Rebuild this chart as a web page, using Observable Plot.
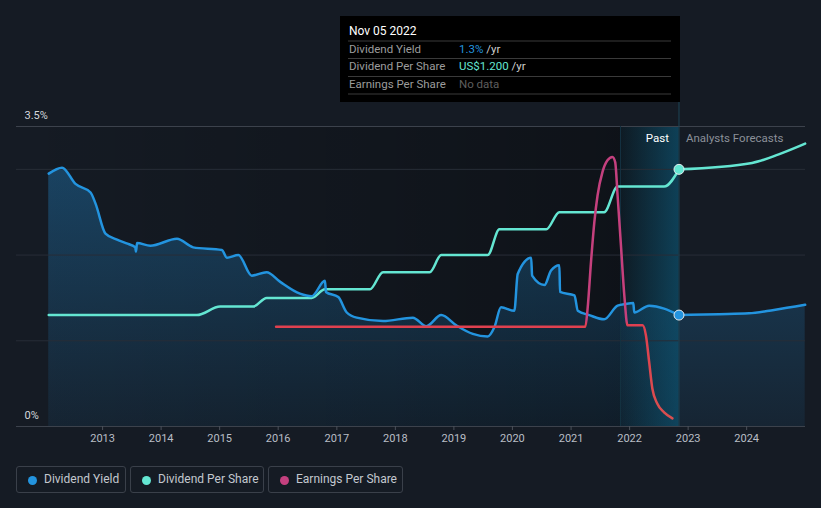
<!DOCTYPE html>
<html><head><meta charset="utf-8">
<script src="https://cdn.jsdelivr.net/npm/d3@7"></script>
<script src="https://cdn.jsdelivr.net/npm/@observablehq/plot@0.6"></script>
<style>
html,body{margin:0;padding:0;background:#151b24;}
body{width:821px;height:508px;overflow:hidden;font-family:Roboto,"Noto Sans",sans-serif;}
#wrap{position:relative;width:821px;height:508px;}
#chart{position:absolute;left:0;top:0;}
#tip{position:absolute;left:340px;top:16px;}
.lg{position:absolute;top:466px;border:1px solid #3a404a;border-radius:3px;box-sizing:border-box;height:27px;}
.lg .dot{position:absolute;top:8.5px;width:9px;height:9px;border-radius:50%;}
.lg .t{position:absolute;top:0;line-height:25px;font-size:12px;color:#c3c8cf;white-space:nowrap;}
</style>
</head><body>
<div id="wrap">
  <div id="chart"></div>
  <svg id="tip" width="340" height="86" font-family="Roboto, sans-serif" font-size="11.5">
    <rect x="0" y="0" width="340" height="86" fill="#000"/>
    <text x="9" y="18.5" fill="#ffffff" font-size="12">Nov 05 2022</text>
    <line x1="8" x2="331" y1="25" y2="25" stroke="#3a3a3a"/>
    <text x="9" y="36.5" fill="#9c9c9c">Dividend Yield</text>
    <text x="119" y="36.5"><tspan fill="#2394df">1.3%</tspan><tspan fill="#cfcfcf"> /yr</tspan></text>
    <line x1="8" x2="331" y1="42.5" y2="42.5" stroke="#3a3a3a"/>
    <text x="9" y="54" fill="#9c9c9c">Dividend Per Share</text>
    <text x="119" y="54"><tspan fill="#64e6d2">US$1.200</tspan><tspan fill="#cfcfcf"> /yr</tspan></text>
    <line x1="8" x2="331" y1="60.5" y2="60.5" stroke="#3a3a3a"/>
    <text x="9" y="72" fill="#9c9c9c">Earnings Per Share</text>
    <text x="119" y="72" fill="#5e5e5e">No data</text>
    <line x1="8" x2="331" y1="78" y2="78" stroke="#3a3a3a"/>
  </svg>
  <div class="lg" style="left:16px;width:110px"><span class="dot" style="left:11px;background:#2394df"></span><span class="t" style="left:27px">Dividend Yield</span></div>
  <div class="lg" style="left:130px;width:134px"><span class="dot" style="left:11px;background:#64e6d2"></span><span class="t" style="left:27px">Dividend Per Share</span></div>
  <div class="lg" style="left:268px;width:135px"><span class="dot" style="left:11px;background:#c4407f"></span><span class="t" style="left:27px">Earnings Per Share</span></div>
</div>
<script>
// ---------- data ----------
const yieldDates = ["2012-01-31","2012-04-23","2012-07-16","2012-10-18","2012-11-18","2013-01-19","2013-04-01","2013-06-10","2013-07-24","2013-07-28","2013-08-04","2013-10-26","2014-04-10","2014-07-20","2015-01-15","2015-02-15","2015-04-28","2015-07-20","2015-10-21","2016-01-12","2016-05-16","2016-07-28","2016-10-19","2016-10-25","2017-01-10","2017-03-04","2017-05-05","2017-10-16","2018-04-20","2018-07-13","2018-10-14","2019-01-16","2019-04-29","2019-07-31","2019-09-11","2019-10-22","2020-01-13","2020-02-03","2020-04-27","2020-05-03","2020-07-19","2020-08-29","2020-10-20","2020-10-24","2021-01-22","2021-02-12","2021-04-24","2021-07-26","2021-10-18","2021-12-09","2022-01-24","2022-01-30","2022-05-03","2022-11-05"];
const yieldValues = [2.95,3.02,2.83,2.73,2.60,2.25,2.18,2.13,2.09,2.04,2.14,2.11,2.19,2.09,2.06,1.97,2.00,1.76,1.80,1.69,1.55,1.52,1.70,1.57,1.51,1.33,1.27,1.23,1.27,1.17,1.30,1.18,1.08,1.05,1.16,1.39,1.35,1.78,1.97,1.76,1.65,1.82,1.88,1.57,1.53,1.35,1.30,1.25,1.41,1.43,1.44,1.33,1.41,1.30];
const yieldFcDates = ["2022-11-05","2023-07-12","2024-01-15","2024-06-19","2024-12-31"];
const yieldFcValues = [1.30,1.31,1.32,1.36,1.42];

const dpsDates = ["2012-01-31","2014-08-12","2015-01-04","2015-07-30","2015-10-21","2016-07-28","2016-10-19","2017-07-26","2017-10-16","2018-08-03","2018-10-14","2019-07-31","2019-10-12","2020-07-30","2020-10-20","2021-07-26","2021-10-18","2022-08-04","2022-11-05"];
const dpsValues = [0.52,0.52,0.56,0.56,0.60,0.60,0.64,0.64,0.72,0.72,0.80,0.80,0.92,0.92,1.00,1.00,1.12,1.12,1.20];
const dpsFcDates = ["2022-11-05","2024-02-04","2024-07-19","2024-12-31"];
const dpsFcValues = [1.20,1.23,1.27,1.32];

const epsDates = ["2015-12-19","2021-02-22","2021-03-31","2021-04-14","2021-05-05","2021-05-26","2021-06-15","2021-07-16","2021-08-16","2021-09-16","2021-10-03","2021-10-18","2021-11-08","2021-11-29","2021-12-19","2022-03-23","2022-04-13","2022-05-03","2022-05-23","2022-06-23","2022-08-04","2022-09-25"];
const epsValues = [2.33,2.33,2.33,2.75,3.83,4.77,5.39,5.94,6.21,6.29,6.17,5.39,4.22,3.06,2.36,2.36,2.12,1.50,0.88,0.53,0.33,0.19];

const gridMajor = [1, 2, 3];
const gridTop = [3.5];
const yLabels = [0, 3.5];
const xTickYears = [2013,2014,2015,2016,2017,2018,2019,2020,2021,2022,2023,2024];
const todayStr = "2022-11-05";
const pastBandStartStr = "2021-11-05";
const domainStartStr = "2011-07-14", domainEndStr = "2025-01-02";

// secondary-series placement on the % axis
const dpsToAxis = 2.5;   // US$1.20 sits on the 3% line
const epsToAxis = 0.5;

// ---------- build ----------
const parse = d3.utcParse("%Y-%m-%d");
const mk = (ds, vs, k = 1) => ds.map((d, i) => ({date: parse(d), value: vs[i] * k}));
const yieldPast = mk(yieldDates, yieldValues);
const yieldFc = mk(yieldFcDates, yieldFcValues);
const yieldAll = yieldPast.concat(yieldFc.slice(1));
const dpsPast = mk(dpsDates, dpsValues, dpsToAxis);
const dpsFc = mk(dpsFcDates, dpsFcValues, dpsToAxis);
const eps = mk(epsDates, epsValues, epsToAxis);
const today = parse(todayStr);
const bandStart = parse(pastBandStartStr);
const dataStart = yieldPast[0].date;
const xTicks = xTickYears.map(y => new Date(Date.UTC(y, 0, 1)));

const BLUE = "#2394df", CYAN = "#64e6d2";

const chart = Plot.plot({
  width: 821, height: 455,
  marginTop: 126, marginBottom: 29, marginLeft: 16, marginRight: 16,
  style: {background: "transparent", fontFamily: "Roboto, sans-serif", fontSize: "11px", color: "#b9bec6"},
  x: {type: "utc", domain: [parse(domainStartStr), parse(domainEndStr)]},
  y: {domain: [0, 3.5], axis: null},
  marks: [
    Plot.rect([{a: dataStart, b: today}], {x1: "a", x2: "b", y1: 0, y2: 3.5, fill: "url(#pastShade)"}),
    Plot.areaY(yieldAll, {x: "date", y: "value", fill: "url(#areaGrad)", curve: "monotone-x"}),
    Plot.rect([{a: bandStart, b: today}], {x1: "a", x2: "b", y1: 0, y2: 3.5, fill: "url(#bandGrad)"}),
    Plot.ruleY(gridMajor, {stroke: "#272d37", strokeWidth: 1}),
    Plot.ruleY(gridTop, {stroke: "#3c424c", strokeWidth: 1}),
    Plot.ruleY([0], {stroke: "#3c424c", strokeWidth: 1}),
    Plot.ruleX([bandStart], {y1: 0, y2: 3.5, stroke: "#143241", strokeWidth: 1}),
    Plot.ruleX([today], {y1: 0, y2: 3.78, stroke: "#1d4556", strokeWidth: 1}),
    Plot.axisX(xTicks, {tickSize: 4, tickPadding: 4, tickFormat: "%Y", stroke: "#4b515a", fill: "#b9bec6", label: null, fontSize: 11}),
    Plot.text(yLabels, {frameAnchor: "left", y: d => d, text: d => d + "%", textAnchor: "start", dx: 8, dy: -11, fill: "#d3d7dc", fontSize: 11}),
    Plot.text([today], {x: d => d, y: 3.5, text: ["Past"], textAnchor: "end", dx: -10, dy: 12, fill: "#ffffff", fontSize: 11.5}),
    Plot.text([today], {x: d => d, y: 3.5, text: ["Analysts Forecasts"], textAnchor: "start", dx: 7, dy: 12, fill: "#8b9099", fontSize: 11.5}),
    Plot.line(dpsPast, {x: "date", y: "value", stroke: CYAN, strokeWidth: 2.5, curve: "monotone-x"}),
    Plot.line(dpsFc, {x: "date", y: "value", stroke: CYAN, strokeWidth: 2.5, curve: "monotone-x"}),
    Plot.line(yieldPast, {x: "date", y: "value", stroke: BLUE, strokeWidth: 2.5, curve: "monotone-x"}),
    Plot.line(yieldFc, {x: "date", y: "value", stroke: BLUE, strokeWidth: 2.5, curve: "monotone-x"}),
    Plot.line(eps, {x: "date", y: "value", stroke: "url(#epsGrad)", strokeWidth: 2.5, curve: "monotone-x"}),
    Plot.dot([dpsPast[dpsPast.length - 1]], {x: "date", y: "value", r: 5, fill: CYAN, stroke: "#e4ecf0", strokeWidth: 1}),
    Plot.dot([yieldPast[yieldPast.length - 1]], {x: "date", y: "value", r: 5, fill: BLUE, stroke: "#e4ecf0", strokeWidth: 1})
  ]
});

// gradients
const ys = chart.scale("y");
const yTop = ys.apply(3.5), yBot = ys.apply(0);
const off = v => ((ys.apply(v) - yTop) / (yBot - yTop)).toFixed(4);
const ns = "http://www.w3.org/2000/svg";
const defs = document.createElementNS(ns, "defs");
defs.innerHTML = `
<linearGradient id="pastShade" x1="0" x2="1" y1="0" y2="0">
  <stop offset="0" stop-color="#000" stop-opacity="0.02"/>
  <stop offset="0.9" stop-color="#000" stop-opacity="0.32"/>
  <stop offset="1" stop-color="#000" stop-opacity="0.32"/>
</linearGradient>
<linearGradient id="areaGrad" x1="0" x2="0" y1="0" y2="1">
  <stop offset="0" stop-color="${BLUE}" stop-opacity="0.33"/>
  <stop offset="1" stop-color="${BLUE}" stop-opacity="0.08"/>
</linearGradient>
<linearGradient id="bandGrad" x1="0" x2="1" y1="0" y2="0">
  <stop offset="0" stop-color="#0e5472" stop-opacity="0.12"/>
  <stop offset="1" stop-color="#0e5472" stop-opacity="0.7"/>
</linearGradient>
<linearGradient id="epsGrad" gradientUnits="userSpaceOnUse" x1="0" x2="0" y1="${yTop}" y2="${yBot}">
  <stop offset="0" stop-color="#c4407f"/>
  <stop offset="${off(1.24)}" stop-color="#c6407c"/>
  <stop offset="${off(1.185)}" stop-color="#e0404f"/>
  <stop offset="1" stop-color="#d8504f"/>
</linearGradient>`;
chart.insertBefore(defs, chart.firstChild);
document.getElementById("chart").appendChild(chart);
</script>
</body></html>
